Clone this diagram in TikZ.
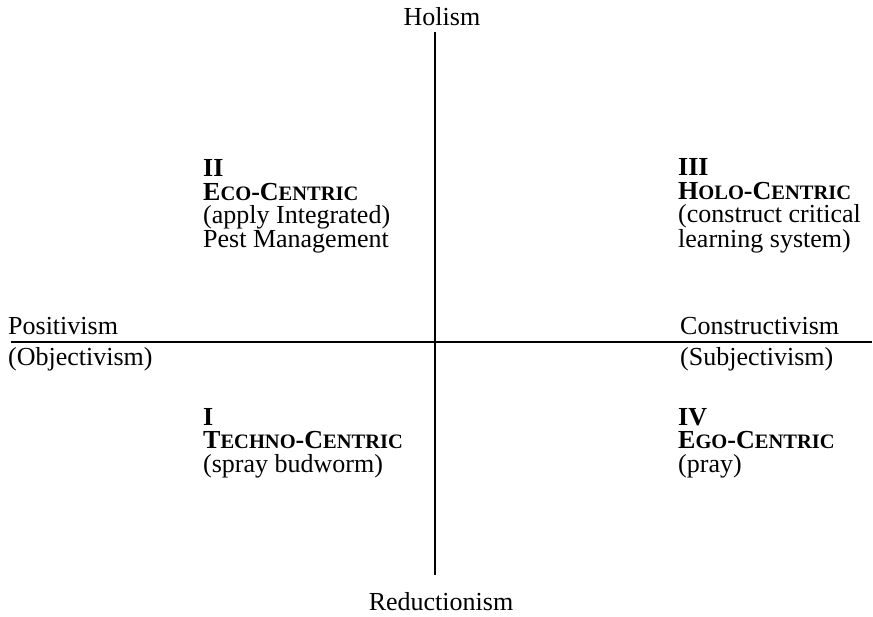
\documentclass[tikz,border=0pt]{standalone}
\usepackage{fontspec}
\setmainfont{Liberation Serif}
\newcommand\fsc[1]{{\fontsize{20.5}{20.5}\selectfont #1}}
\tikzset{
  lbl/.style={inner sep=0pt, font=\fontsize{26}{23.5}\selectfont, align=left},
  axis/.style={line width=1.7pt}
}
\begin{document}
\begin{tikzpicture}[x=1pt,y=-1pt]
\useasboundingbox (0,0) rectangle (873,617);
\coordinate (vtop) at (435,32);
\coordinate (vbot) at (435,575);
\coordinate (hl) at (11,342);
\coordinate (hr) at (872,342);
\draw[axis] (vtop) -- (vbot);
\draw[axis] (hl) -- (hr);
\node[lbl, anchor=base] (holism) at (442,26) {Holism};
\node[lbl, anchor=base] (reduct) at (441,610) {Reductionism};
\node[lbl, anchor=base west] (pos) at (8,335) {Positivism};
\node[lbl, anchor=base west] (obj) at (8,366) {(Objectivism)};
\node[lbl, anchor=base west] (con) at (680,335) {Constructivism};
\node[lbl, anchor=base west] (subj) at (680,366) {(Subjectivism)};
\node[lbl, anchor=base west] (q2) at (203,247.5) {\textbf{II}\\\textbf{E\fsc{CO}-C\fsc{ENTRIC}}\\(apply Integrated)\\Pest Management};
\node[lbl, anchor=base west] (q3) at (678,247.5) {\textbf{III}\\\textbf{H\fsc{OLO}-C\fsc{ENTRIC}}\\(construct critical\\learning system)};
\node[lbl, anchor=base west] (q1) at (203,472) {\textbf{I}\\\textbf{T\fsc{ECHNO}-C\fsc{ENTRIC}}\\(spray budworm)};
\node[lbl, anchor=base west] (q4) at (678,472) {\textbf{IV}\\\textbf{E\fsc{GO}-C\fsc{ENTRIC}}\\(pray)};
\end{tikzpicture}
\end{document}
